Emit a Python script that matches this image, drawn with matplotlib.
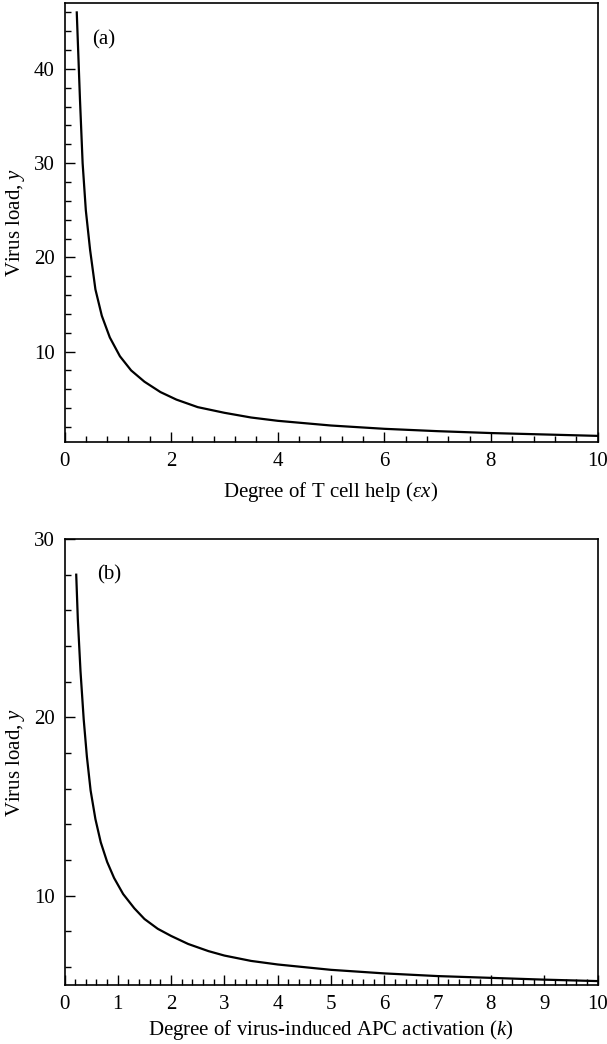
import matplotlib
matplotlib.use("Agg")
import matplotlib.pyplot as plt
from matplotlib.ticker import MultipleLocator

plt.rcParams['font.family'] = ['Liberation Serif', 'DejaVu Serif']
plt.rcParams['mathtext.fontset'] = 'custom'
plt.rcParams['mathtext.rm'] = 'Liberation Serif'
plt.rcParams['mathtext.it'] = 'Liberation Serif:italic'

# Panel (a): virus load vs degree of T cell help
help_x = [0.23, 0.29, 0.34, 0.40, 0.48, 0.58, 0.70, 0.85, 1.04, 1.25, 1.50, 1.80,
          2.10, 2.50, 3.00, 3.50, 4.00, 5.00, 6.00, 7.00, 8.00, 9.00, 10.0]
help_y = [46.0, 36.8, 30.0, 25.0, 20.8, 16.6, 13.8, 11.5, 9.5, 8.0, 6.8, 5.7,
          4.9, 4.1, 3.5, 3.0, 2.65, 2.15, 1.8, 1.55, 1.35, 1.2, 1.05]

# Panel (b): virus load vs degree of virus-induced APC activation
apc_x = [0.22, 0.25, 0.30, 0.36, 0.42, 0.49, 0.58, 0.68, 0.80, 0.93, 1.10, 1.31,
         1.50, 1.75, 2.00, 2.32, 2.70, 3.00, 3.50, 4.00, 5.00, 6.00, 7.00, 8.00,
         9.00, 10.0]
apc_y = [28.0, 25.5, 22.6, 19.9, 17.8, 15.9, 14.3, 13.0, 11.9, 11.0, 10.1, 9.3,
         8.7, 8.15, 7.75, 7.3, 6.9, 6.65, 6.35, 6.15, 5.85, 5.65, 5.5, 5.4,
         5.3, 5.22]

W, H = 607, 1044
fig = plt.figure(figsize=(W / 100, H / 100), dpi=100)

def frac(l, t, r, b):
    return [l / W, 1 - b / H, (r - l) / W, (b - t) / H]

axA = fig.add_axes(frac(64.5, 3, 597.5, 442))
axB = fig.add_axes(frac(64.5, 539, 597.5, 985))

FS = 15

for ax in (axA, axB):
    for s in ax.spines.values():
        s.set_linewidth(1.2)
    ax.tick_params(which='both', direction='in', top=False, right=False,
                   labelsize=FS, width=1.0)
    ax.tick_params(which='major', length=7, pad=7)
    ax.tick_params(which='minor', length=4)

axA.plot(help_x, help_y, color='black', lw=1.6)
axA.set_xlim(0, 10)
axA.set_ylim(0.4, 47)
axA.xaxis.set_major_locator(MultipleLocator(2))
axA.xaxis.set_minor_locator(MultipleLocator(0.4))
axA.set_yticks([10, 20, 30, 40])
axA.yaxis.set_minor_locator(MultipleLocator(2))
axA.set_xlabel(r'Degree of T cell help ($\mathit{\varepsilon x}$)', fontsize=FS, labelpad=7)
axA.set_ylabel(r'Virus load, $\mathit{y}$', fontsize=FS, labelpad=5)
axA.text(0.052, 0.916, '(a)', transform=axA.transAxes, fontsize=FS, va='center', ha='left')

axB.plot(apc_x, apc_y, color='black', lw=1.6)
axB.set_xlim(0, 10)
axB.set_ylim(5, 30)
axB.xaxis.set_major_locator(MultipleLocator(1))
axB.xaxis.set_minor_locator(MultipleLocator(0.2))
axB.set_yticks([10, 20, 30])
axB.yaxis.set_minor_locator(MultipleLocator(2))
axB.set_xlabel(r'Degree of virus-induced APC activation ($\mathit{k}$)', fontsize=FS, labelpad=3)
axB.set_ylabel(r'Virus load, $\mathit{y}$', fontsize=FS, labelpad=5)
axB.text(0.061, 0.919, '(b)', transform=axB.transAxes, fontsize=FS, va='center', ha='left')

fig.savefig('out.png', dpi=100)
